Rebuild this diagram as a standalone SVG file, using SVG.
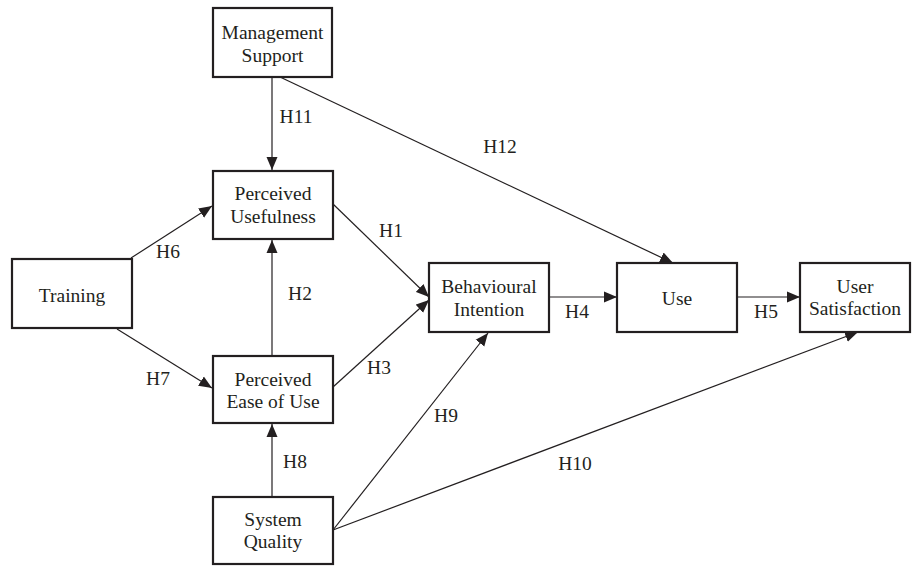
<svg xmlns="http://www.w3.org/2000/svg" width="912" height="566" viewBox="0 0 912 566">
<style>
.box{fill:#fff;stroke:#231f20;stroke-width:2.2}
.t{font-family:"Liberation Serif","Times New Roman",serif;font-size:19.5px;fill:#231f20;text-anchor:middle}
.c{stroke:#231f20;stroke-width:1.2;fill:none}
</style>
<defs>
<marker id="ah" markerUnits="userSpaceOnUse" markerWidth="14" markerHeight="12" refX="13" refY="6" orient="auto">
<path d="M0,0.5 L13,6 L0,11.5 z" fill="#231f20"/>
</marker>
</defs>
<rect width="912" height="566" fill="#fff"/>
<g id="connectors">
<line class="c" x1="272" y1="77" x2="272" y2="170" marker-end="url(#ah)"/>
<line class="c" x1="280" y1="77" x2="673" y2="263" marker-end="url(#ah)"/>
<line class="c" x1="131" y1="258" x2="212" y2="206" marker-end="url(#ah)"/>
<line class="c" x1="117" y1="329" x2="212" y2="388" marker-end="url(#ah)"/>
<line class="c" x1="272" y1="356" x2="272" y2="240" marker-end="url(#ah)"/>
<line class="c" x1="333" y1="204" x2="429" y2="297" marker-end="url(#ah)"/>
<line class="c" x1="333" y1="387" x2="429" y2="300" marker-end="url(#ah)"/>
<line class="c" x1="549" y1="297" x2="617" y2="297" marker-end="url(#ah)"/>
<line class="c" x1="737" y1="297" x2="800" y2="297" marker-end="url(#ah)"/>
<line class="c" x1="272" y1="497" x2="272" y2="424" marker-end="url(#ah)"/>
<line class="c" x1="333" y1="530" x2="488" y2="333" marker-end="url(#ah)"/>
<line class="c" x1="333" y1="530" x2="858" y2="332" marker-end="url(#ah)"/>
<text class="t" x="296" y="123">H11</text>
<text class="t" x="500" y="153">H12</text>
<text class="t" x="168" y="258">H6</text>
<text class="t" x="158" y="385">H7</text>
<text class="t" x="300" y="300">H2</text>
<text class="t" x="391" y="237">H1</text>
<text class="t" x="379" y="374">H3</text>
<text class="t" x="577" y="318">H4</text>
<text class="t" x="766" y="318">H5</text>
<text class="t" x="295" y="468">H8</text>
<text class="t" x="446" y="422">H9</text>
<text class="t" x="575" y="470">H10</text>
</g>
<g id="management-support">
<rect class="box" x="213" y="8" width="119" height="69"/>
<text class="t" x="272.5" y="39">Management</text>
<text class="t" x="272.5" y="62">Support</text>
</g>
<g id="perceived-usefulness">
<rect class="box" x="213" y="171" width="120" height="68"/>
<text class="t" x="273" y="200">Perceived</text>
<text class="t" x="273" y="223">Usefulness</text>
</g>
<g id="training">
<rect class="box" x="12" y="259" width="120" height="69"/>
<text class="t" x="72" y="302">Training</text>
</g>
<g id="perceived-ease-of-use">
<rect class="box" x="213" y="356" width="120" height="67"/>
<text class="t" x="273" y="386">Perceived</text>
<text class="t" x="273" y="408">Ease of Use</text>
</g>
<g id="behavioural-intention">
<rect class="box" x="429" y="263" width="120" height="69"/>
<text class="t" x="489" y="293">Behavioural</text>
<text class="t" x="489" y="316">Intention</text>
</g>
<g id="use">
<rect class="box" x="617" y="263" width="120" height="69"/>
<text class="t" x="677" y="305">Use</text>
</g>
<g id="user-satisfaction">
<rect class="box" x="800" y="263" width="110" height="69"/>
<text class="t" x="855" y="293">User</text>
<text class="t" x="855" y="315">Satisfaction</text>
</g>
<g id="system-quality">
<rect class="box" x="213" y="497" width="120" height="67"/>
<text class="t" x="273" y="526">System</text>
<text class="t" x="273" y="548">Quality</text>
</g>
</svg>
